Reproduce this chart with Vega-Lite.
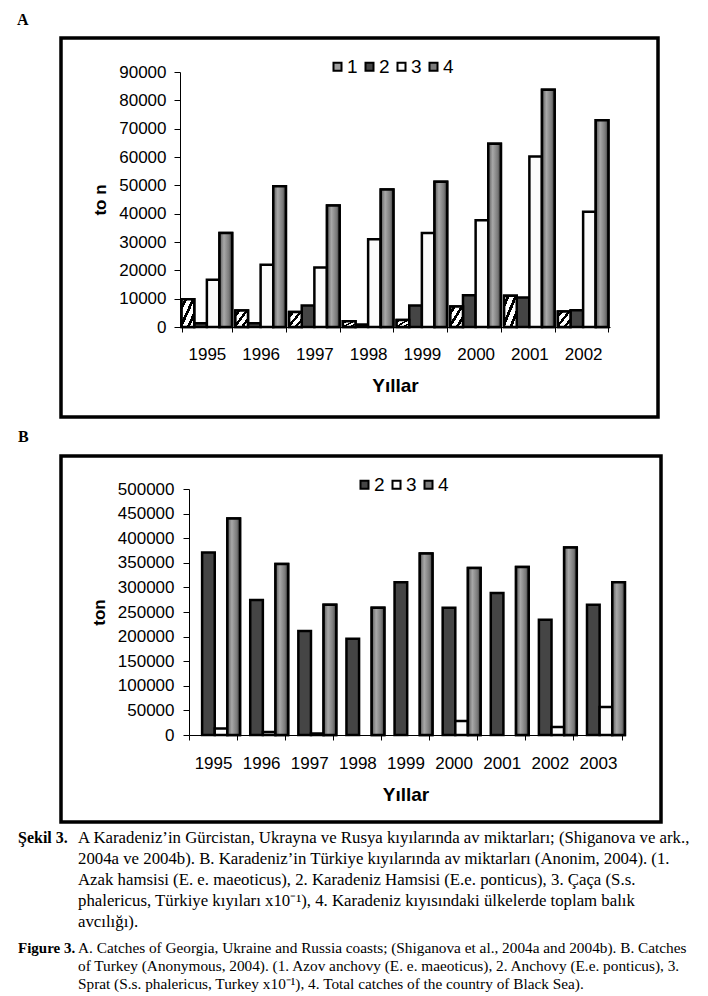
{
  "$schema": "https://vega.github.io/schema/vega-lite/v6.json",
  "padding": {"left": 15, "top": 10, "right": 0, "bottom": 0},
  "background": "white",
  "config": {
    "view": {"stroke": null},
    "font": "Liberation Sans",
    "axis": {"grid": false, "domainColor": "black", "domainWidth": 1, "tickColor": "black", "tickWidth": 1, "labelColor": "black", "titleColor": "black", "labelFont": "Liberation Sans", "labelFontSize": 17, "titleFont": "Liberation Sans", "titleFontWeight": "bold"}
  },
  "datasets": {
    "A": [
      {"year": "1995", "series": "1", "ton": 9800}, {"year": "1995", "series": "2", "ton": 1300}, {"year": "1995", "series": "3", "ton": 16700}, {"year": "1995", "series": "4", "ton": 33200},
      {"year": "1996", "series": "1", "ton": 5800}, {"year": "1996", "series": "2", "ton": 1300}, {"year": "1996", "series": "3", "ton": 22000}, {"year": "1996", "series": "4", "ton": 49700},
      {"year": "1997", "series": "1", "ton": 5300}, {"year": "1997", "series": "2", "ton": 7600}, {"year": "1997", "series": "3", "ton": 21000}, {"year": "1997", "series": "4", "ton": 42900},
      {"year": "1998", "series": "1", "ton": 2000}, {"year": "1998", "series": "2", "ton": 900}, {"year": "1998", "series": "3", "ton": 31000}, {"year": "1998", "series": "4", "ton": 48500},
      {"year": "1999", "series": "1", "ton": 2500}, {"year": "1999", "series": "2", "ton": 7600}, {"year": "1999", "series": "3", "ton": 33200}, {"year": "1999", "series": "4", "ton": 51300},
      {"year": "2000", "series": "1", "ton": 7200}, {"year": "2000", "series": "2", "ton": 11200}, {"year": "2000", "series": "3", "ton": 37700}, {"year": "2000", "series": "4", "ton": 64700},
      {"year": "2001", "series": "1", "ton": 11000}, {"year": "2001", "series": "2", "ton": 10400}, {"year": "2001", "series": "3", "ton": 60200}, {"year": "2001", "series": "4", "ton": 83700},
      {"year": "2002", "series": "1", "ton": 5500}, {"year": "2002", "series": "2", "ton": 5900}, {"year": "2002", "series": "3", "ton": 40700}, {"year": "2002", "series": "4", "ton": 73000}
    ],
    "B": [
      {"year": "1995", "series": "2", "ton": 371000}, {"year": "1995", "series": "3", "ton": 13000}, {"year": "1995", "series": "4", "ton": 440000},
      {"year": "1996", "series": "2", "ton": 274500}, {"year": "1996", "series": "3", "ton": 6300}, {"year": "1996", "series": "4", "ton": 347500},
      {"year": "1997", "series": "2", "ton": 211500}, {"year": "1997", "series": "3", "ton": 3000}, {"year": "1997", "series": "4", "ton": 264500},
      {"year": "1998", "series": "2", "ton": 195500}, {"year": "1998", "series": "4", "ton": 258500},
      {"year": "1999", "series": "2", "ton": 310500}, {"year": "1999", "series": "4", "ton": 369000},
      {"year": "2000", "series": "2", "ton": 258500}, {"year": "2000", "series": "3", "ton": 28500}, {"year": "2000", "series": "4", "ton": 339500},
      {"year": "2001", "series": "2", "ton": 288500}, {"year": "2001", "series": "4", "ton": 341500},
      {"year": "2002", "series": "2", "ton": 234000}, {"year": "2002", "series": "3", "ton": 16500}, {"year": "2002", "series": "4", "ton": 381000},
      {"year": "2003", "series": "2", "ton": 264500}, {"year": "2003", "series": "3", "ton": 57000}, {"year": "2003", "series": "4", "ton": 310500}
    ],
    "capTR": [
      {"line": 1, "col": "label", "text": "Şekil 3."},
      {"line": 1, "col": "body", "text": "A Karadeniz’in Gürcistan, Ukrayna ve Rusya kıyılarında av miktarları; (Shiganova ve ark.,"},
      {"line": 2, "col": "body", "text": "2004a ve 2004b). B. Karadeniz’in Türkiye kıyılarında av miktarları (Anonim, 2004). (1."},
      {"line": 3, "col": "body", "text": "Azak hamsisi (E. e. maeoticus), 2. Karadeniz Hamsisi (E.e. ponticus), 3. Çaça (S.s."},
      {"line": 4, "col": "body", "text": "phalericus, Türkiye kıyıları x10⁻¹), 4. Karadeniz kıyısındaki ülkelerde toplam balık"},
      {"line": 5, "col": "body", "text": "avcılığı)."}
    ],
    "capEN": [
      {"line": 1, "col": "label", "text": "Figure 3."},
      {"line": 1, "col": "body", "text": "A. Catches of Georgia, Ukraine and Russia coasts; (Shiganova et al., 2004a and 2004b). B. Catches"},
      {"line": 2, "col": "body", "text": "of Turkey (Anonymous, 2004). (1. Azov anchovy (E. e. maeoticus), 2. Anchovy (E.e. ponticus), 3."},
      {"line": 3, "col": "body", "text": "Sprat (S.s. phalericus, Turkey x10⁻¹), 4. Total catches of the country of Black Sea)."}
    ]
  },
  "spacing": 8,
  "resolve": {"scale": {"fill": "independent"}, "legend": {"fill": "independent"}},
  "vconcat": [
    {
      "data": {"name": "A"},
      "width": 597,
      "height": 379,
      "view": {"stroke": "black", "strokeWidth": 3.5},
      "title": {"text": "A", "anchor": "start", "frame": "group", "dx": -44, "offset": -3, "baseline": "alphabetic", "font": "Liberation Serif", "fontSize": 16, "fontWeight": "bold", "color": "black"},
      "encoding": {
        "x": {"field": "year", "type": "nominal", "scale": {"range": [119, 549], "paddingInner": 0.06, "paddingOuter": 0.03},
          "axis": {"title": "Yıllar", "titleFontSize": 19, "titlePadding": 14, "labelAngle": 0, "tickBand": "extent", "tickSize": 5, "labelPadding": 14, "offset": -90}},
        "xOffset": {"field": "series", "type": "nominal", "scale": {"domain": ["1", "2", "3", "4"], "paddingInner": 0, "paddingOuter": 0}},
        "y": {"field": "ton", "type": "quantitative", "scale": {"domain": [0, 90000], "range": [289, 34], "nice": false},
          "axis": {"title": "to n", "titleFontSize": 17, "titlePadding": 9, "values": [0, 10000, 20000, 30000, 40000, 50000, 60000, 70000, 80000, 90000], "format": "d", "tickSize": 6, "labelPadding": 8, "offset": -119}}
      },
      "layer": [
        {
          "mark": {"type": "bar", "stroke": "black", "strokeWidth": 2.5},
          "encoding": {
            "fill": {"field": "series", "type": "nominal", "scale": {"domain": ["1", "2", "3", "4"], "range": ["#a0a0a0", "#454545", "#fbfbfb", "#7c7c7c"]},
              "legend": {"orient": "none", "legendX": 267, "legendY": 19, "direction": "horizontal", "title": null, "symbolType": "square", "symbolSize": 64, "symbolStrokeColor": "black", "symbolStrokeWidth": 2, "labelFontSize": 19, "labelFont": "Liberation Sans", "labelColor": "black", "labelOffset": 0, "columnPadding": 2, "padding": 0}}
          }
        },
        {
          "transform": [{"filter": "datum.series === '1'"}],
          "mark": {"type": "bar", "stroke": "black", "strokeWidth": 2.5,
            "fill": {"gradient": "linear", "x1": 0, "y1": 0, "x2": 1, "y2": 1, "stops": [
              {"offset": 0, "color": "white"}, {"offset": 0.1, "color": "white"}, {"offset": 0.1, "color": "black"}, {"offset": 0.22, "color": "black"},
              {"offset": 0.22, "color": "white"}, {"offset": 0.4, "color": "white"}, {"offset": 0.4, "color": "black"}, {"offset": 0.52, "color": "black"},
              {"offset": 0.52, "color": "white"}, {"offset": 0.7, "color": "white"}, {"offset": 0.7, "color": "black"}, {"offset": 0.82, "color": "black"},
              {"offset": 0.82, "color": "white"}, {"offset": 1, "color": "white"}]}}
        },
        {
          "transform": [{"filter": "datum.series === '4'"}],
          "mark": {"type": "bar", "stroke": "black", "strokeWidth": 2.5,
            "fill": {"gradient": "linear", "x1": 0, "y1": 0, "x2": 1, "y2": 0, "stops": [
              {"offset": 0, "color": "#5a5a5a"}, {"offset": 0.35, "color": "#a8a8a8"}, {"offset": 0.75, "color": "#7a7a7a"}, {"offset": 1, "color": "#3a3a3a"}]}}
        }
      ]
    },
    {
      "spacing": 3,
      "resolve": {"scale": {"fill": "independent"}, "legend": {"fill": "independent"}},
      "vconcat": [
        {
          "data": {"name": "B"},
          "width": 600,
          "height": 366,
          "view": {"stroke": "black", "strokeWidth": 3.5},
          "title": {"text": "B", "anchor": "start", "frame": "group", "dx": -43, "offset": -2, "baseline": "alphabetic", "font": "Liberation Serif", "fontSize": 16, "fontWeight": "bold", "color": "black"},
          "encoding": {
            "x": {"field": "year", "type": "nominal", "scale": {"range": [128, 561], "paddingInner": 0.02, "paddingOuter": 0.01},
              "axis": {"title": "Yıllar", "titleFontSize": 19, "titlePadding": 14, "labelAngle": 0, "tickBand": "extent", "tickSize": 5, "labelPadding": 15, "offset": -87}},
            "xOffset": {"field": "series", "type": "nominal", "scale": {"domain": ["2", "3", "4"], "paddingInner": 0.08, "paddingOuter": 0}},
            "y": {"field": "ton", "type": "quantitative", "scale": {"domain": [0, 500000], "range": [279, 33], "nice": false},
              "axis": {"title": "ton", "titleFontSize": 17, "titlePadding": 9, "values": [0, 50000, 100000, 150000, 200000, 250000, 300000, 350000, 400000, 450000, 500000], "format": "d", "tickSize": 6, "labelPadding": 9, "offset": -128}}
          },
          "layer": [
            {
              "mark": {"type": "bar", "stroke": "black", "strokeWidth": 2.5},
              "encoding": {
                "fill": {"field": "series", "type": "nominal", "scale": {"domain": ["2", "3", "4"], "range": ["#454545", "#fbfbfb", "#7c7c7c"]},
                  "legend": {"orient": "none", "legendX": 294, "legendY": 19, "direction": "horizontal", "title": null, "symbolType": "square", "symbolSize": 64, "symbolStrokeColor": "black", "symbolStrokeWidth": 2, "labelFontSize": 19, "labelFont": "Liberation Sans", "labelColor": "black", "labelOffset": 0, "columnPadding": 2, "padding": 0}}
              }
            },
            {
              "transform": [{"filter": "datum.series === '4'"}],
              "mark": {"type": "bar", "stroke": "black", "strokeWidth": 2.5,
                "fill": {"gradient": "linear", "x1": 0, "y1": 0, "x2": 1, "y2": 0, "stops": [
                  {"offset": 0, "color": "#5a5a5a"}, {"offset": 0.35, "color": "#a8a8a8"}, {"offset": 0.75, "color": "#7a7a7a"}, {"offset": 1, "color": "#3a3a3a"}]}}
            }
          ]
        },
        {
          "spacing": 7,
          "vconcat": [
            {
              "data": {"name": "capTR"},
              "width": 630,
              "height": {"step": 21},
              "encoding": {
                "x": {"field": "col", "type": "nominal", "scale": {"type": "point", "domain": ["label", "body"], "range": [-43, 17], "padding": 0}, "axis": null},
                "y": {"field": "line", "type": "ordinal", "axis": null},
                "text": {"field": "text", "type": "nominal"}
              },
              "layer": [
                {"transform": [{"filter": "datum.col === 'label'"}], "mark": {"type": "text", "align": "left", "baseline": "middle", "font": "Liberation Serif", "fontSize": 16, "fontWeight": "bold", "color": "black"}},
                {"transform": [{"filter": "datum.col === 'body'"}], "mark": {"type": "text", "align": "left", "baseline": "middle", "font": "Liberation Serif", "fontSize": 16.8, "color": "black"}}
              ]
            },
            {
              "data": {"name": "capEN"},
              "width": 630,
              "height": {"step": 18},
              "encoding": {
                "x": {"field": "col", "type": "nominal", "scale": {"type": "point", "domain": ["label", "body"], "range": [-43, 17], "padding": 0}, "axis": null},
                "y": {"field": "line", "type": "ordinal", "axis": null},
                "text": {"field": "text", "type": "nominal"}
              },
              "layer": [
                {"transform": [{"filter": "datum.col === 'label'"}], "mark": {"type": "text", "align": "left", "baseline": "middle", "font": "Liberation Serif", "fontSize": 15, "fontWeight": "bold", "color": "black"}},
                {"transform": [{"filter": "datum.col === 'body'"}], "mark": {"type": "text", "align": "left", "baseline": "middle", "font": "Liberation Serif", "fontSize": 15.3, "color": "black"}}
              ]
            }
          ]
        }
      ]
    }
  ]
}
